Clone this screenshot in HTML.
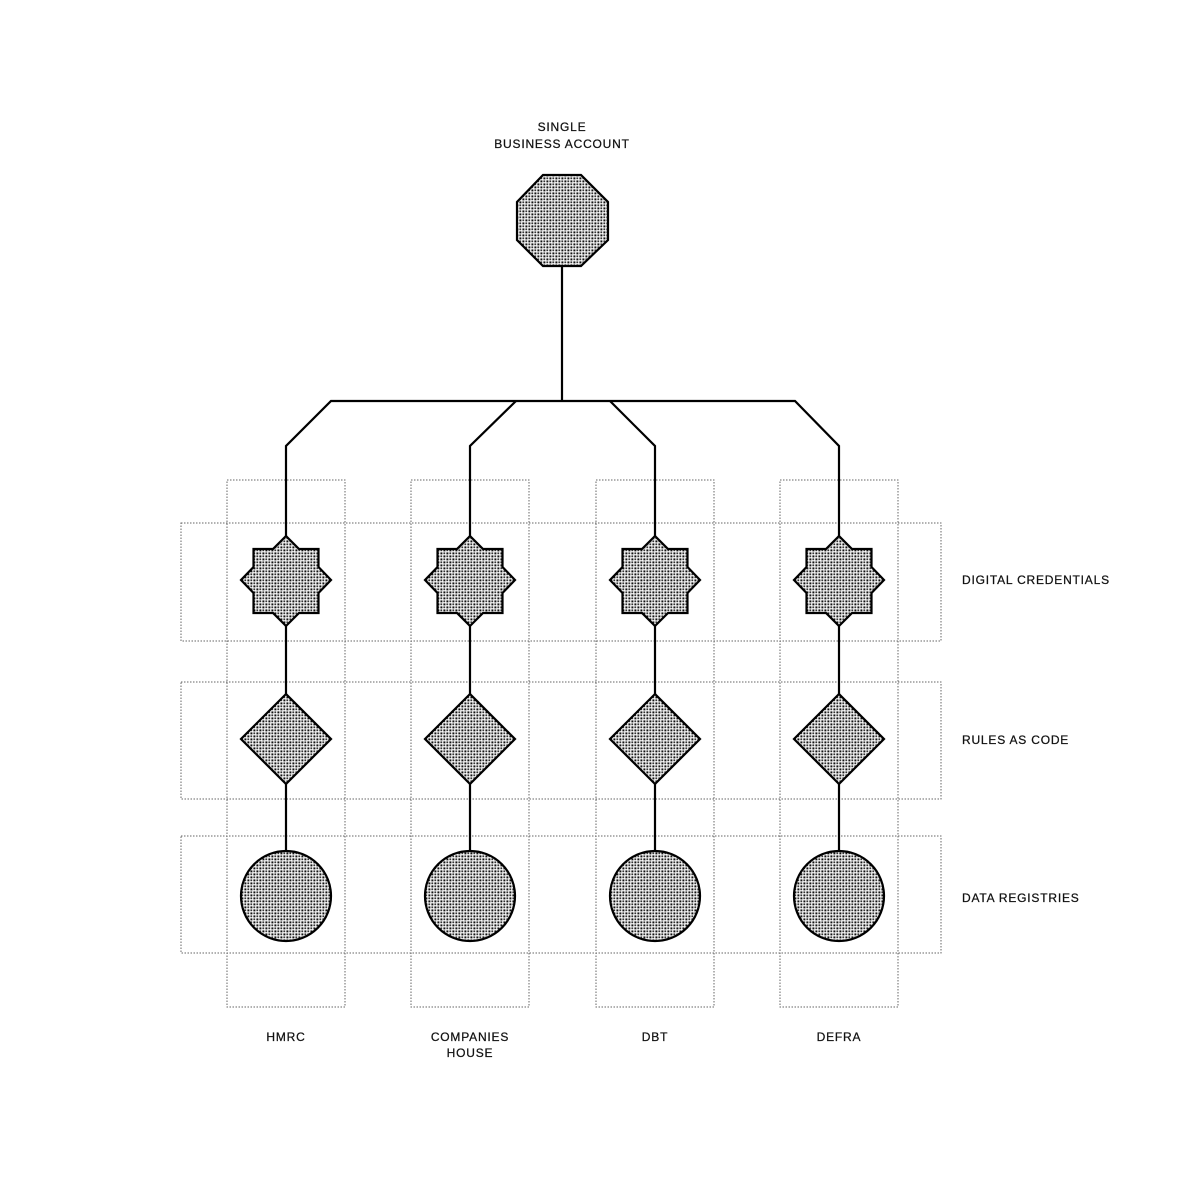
<!DOCTYPE html>
<html><head><meta charset="utf-8"><style>
html,body{margin:0;padding:0;background:#fff;}
svg{display:block;}
text{font-family:"Liberation Sans",sans-serif;font-size:12px;letter-spacing:0.8px;fill:#111;stroke:#111;stroke-width:0.25px;}
</style></head><body>
<svg width="1200" height="1200" viewBox="0 0 1200 1200" xmlns="http://www.w3.org/2000/svg">
<defs>
<pattern id="d" width="6" height="6" patternUnits="userSpaceOnUse">
<rect width="6" height="6" fill="#fff"/>
<rect x="0.4" y="0.4" width="2" height="2" fill="#111"/>
<rect x="3.4" y="3.4" width="2" height="2" fill="#111"/>
<rect x="3.4" y="0.4" width="1.8" height="1.8" fill="#333"/>
<rect x="0.4" y="3.4" width="1.8" height="1.8" fill="#333"/>
</pattern>
<g id="col">
<rect x="-59" y="480" width="118" height="527" fill="none" stroke="#666" stroke-width="1" stroke-dasharray="1.5,1.5"/>
<line x1="0" y1="536" x2="0" y2="896" stroke="#000" stroke-width="2.2"/>
<path d="M0,536 L13,549 L32.5,549 L32.5,567 L45,580 L32.5,593 L32.5,613 L13,613 L0,626 L-13,613 L-32.5,613 L-32.5,593 L-45,580 L-32.5,567 L-32.5,549 L-13,549 Z" fill="url(#d)" stroke="#000" stroke-width="2.2" stroke-linejoin="miter"/>
<path d="M0,694 L45,739 L0,784 L-45,739 Z" fill="url(#d)" stroke="#000" stroke-width="2.2"/>
<circle cx="0" cy="896" r="45" fill="url(#d)" stroke="#000" stroke-width="2.2"/>
</g>
</defs>
<g fill="none" stroke="#666" stroke-width="1" stroke-dasharray="1.5,1.5">
<rect x="181" y="523" width="760" height="118"/>
<rect x="181" y="682" width="760" height="117"/>
<rect x="181" y="836" width="760" height="117"/>
</g>
<use href="#col" x="286"/>
<use href="#col" x="470"/>
<use href="#col" x="655"/>
<use href="#col" x="839"/>
<g fill="none" stroke="#000" stroke-width="2.2">
<line x1="562" y1="266" x2="562" y2="401"/>
<path d="M286,536 L286,446 L331,401 L795,401 L839,446 L839,536"/>
<path d="M470,536 L470,446 L516,401"/>
<path d="M655,536 L655,446 L610,401"/>
</g>
<path d="M543,175 L581,175 L608,202 L608,240 L581,266 L543,266 L517,240 L517,202 Z" fill="url(#d)" stroke="#000" stroke-width="2.2"/>
<text x="562" y="131" text-anchor="middle">SINGLE</text>
<text x="562" y="148" text-anchor="middle">BUSINESS ACCOUNT</text>
<text x="962" y="584">DIGITAL CREDENTIALS</text>
<text x="962" y="744">RULES AS CODE</text>
<text x="962" y="902">DATA REGISTRIES</text>
<text x="286" y="1041" text-anchor="middle">HMRC</text>
<text x="470" y="1041" text-anchor="middle">COMPANIES</text>
<text x="470" y="1057" text-anchor="middle">HOUSE</text>
<text x="655" y="1041" text-anchor="middle">DBT</text>
<text x="839" y="1041" text-anchor="middle">DEFRA</text>
</svg>
</body></html>
